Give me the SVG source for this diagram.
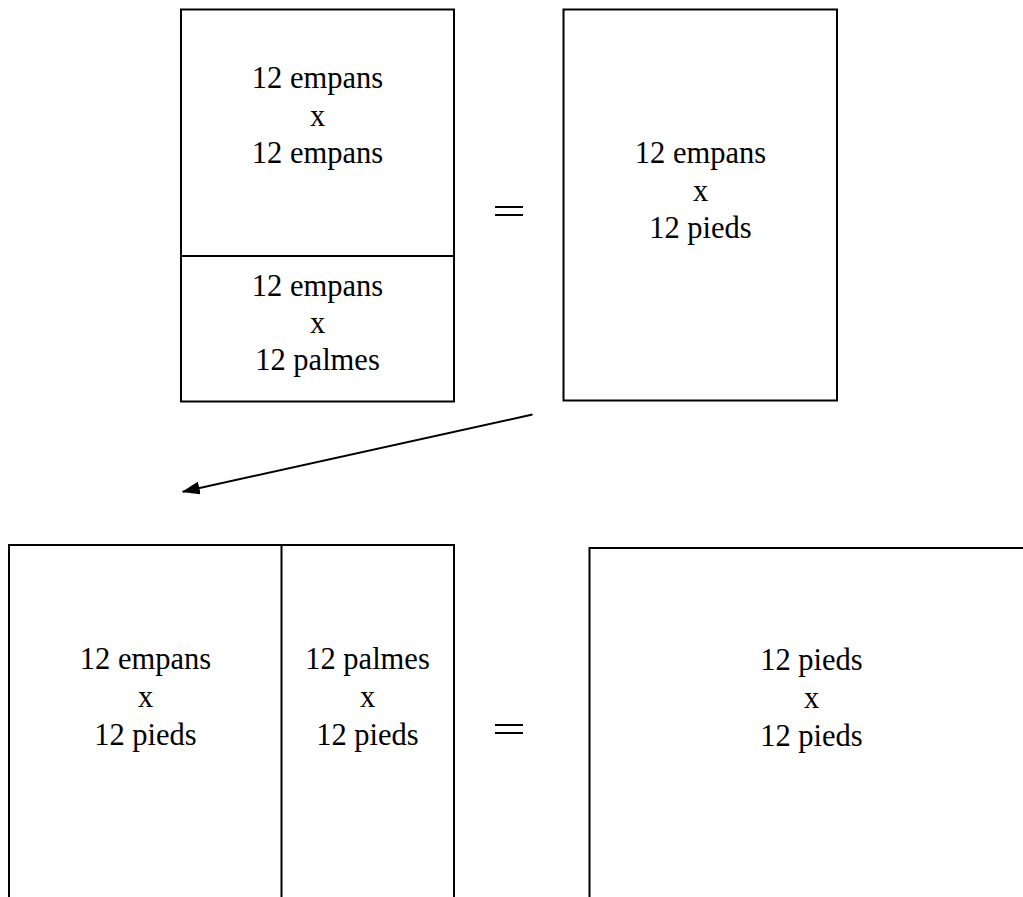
<svg xmlns="http://www.w3.org/2000/svg" width="1023" height="897" viewBox="0 0 1023 897">
<style>
.box{fill:none;stroke:#000;stroke-width:2}
text{font-family:'Liberation Serif','Times New Roman',Tinos,'DejaVu Serif',serif;font-size:30.5px;fill:#000;text-anchor:middle}
.eq{stroke:#000;stroke-width:2}
</style>
<defs>
<marker id="ah" markerWidth="18" markerHeight="13" refX="17" refY="6.5" orient="auto" markerUnits="userSpaceOnUse" viewBox="0 0 18 13">
<path d="M0,0 L18,6.5 L0,13 z" fill="#000"/>
</marker>
</defs>
<rect width="1023" height="897" fill="#fff"/>
<g id="topLeft">
<rect class="box" x="181" y="9.5" width="273" height="392"/>
<line class="box" x1="181" y1="256" x2="454" y2="256"/>
<text x="317.5" y="88" font-family="Liberation Serif, serif">12 empans</text>
<text x="317.5" y="125.5" font-family="Liberation Serif, serif">x</text>
<text x="317.5" y="163" font-family="Liberation Serif, serif">12 empans</text>
<text x="317.5" y="296" font-family="Liberation Serif, serif">12 empans</text>
<text x="317.5" y="333" font-family="Liberation Serif, serif">x</text>
<text x="317.5" y="369.5" font-family="Liberation Serif, serif">12 palmes</text>
</g>
<g id="eqTop">
<line class="eq" x1="495" y1="207" x2="523" y2="207"/>
<line class="eq" x1="495" y1="215" x2="523" y2="215"/>
</g>
<g id="topRight">
<rect class="box" x="563.5" y="9.5" width="273.5" height="391"/>
<text x="700.5" y="163" font-family="Liberation Serif, serif">12 empans</text>
<text x="700.5" y="200.5" font-family="Liberation Serif, serif">x</text>
<text x="700.5" y="238" font-family="Liberation Serif, serif">12 pieds</text>
</g>
<g id="bottomLeft">
<path class="box" d="M9,900 V545 H454 V900 M281.5,545 V900"/>
<text x="145.5" y="669" font-family="Liberation Serif, serif">12 empans</text>
<text x="145.5" y="707" font-family="Liberation Serif, serif">x</text>
<text x="145.5" y="744.5" font-family="Liberation Serif, serif">12 pieds</text>
<text x="367.5" y="669" font-family="Liberation Serif, serif">12 palmes</text>
<text x="367.5" y="707" font-family="Liberation Serif, serif">x</text>
<text x="367.5" y="744.5" font-family="Liberation Serif, serif">12 pieds</text>
</g>
<g id="eqBottom">
<line class="eq" x1="495" y1="725" x2="523" y2="725"/>
<line class="eq" x1="495" y1="733" x2="523" y2="733"/>
</g>
<g id="bottomRight">
<path class="box" d="M589.5,900 V548 H1030"/>
<text x="811.5" y="670" font-family="Liberation Serif, serif">12 pieds</text>
<text x="811.5" y="708" font-family="Liberation Serif, serif">x</text>
<text x="811.5" y="745.5" font-family="Liberation Serif, serif">12 pieds</text>
</g>
<g id="connectors">
<line x1="532.5" y1="414.5" x2="182.7" y2="491.7" stroke="#000" stroke-width="2" marker-end="url(#ah)"/>
</g>
</svg>
